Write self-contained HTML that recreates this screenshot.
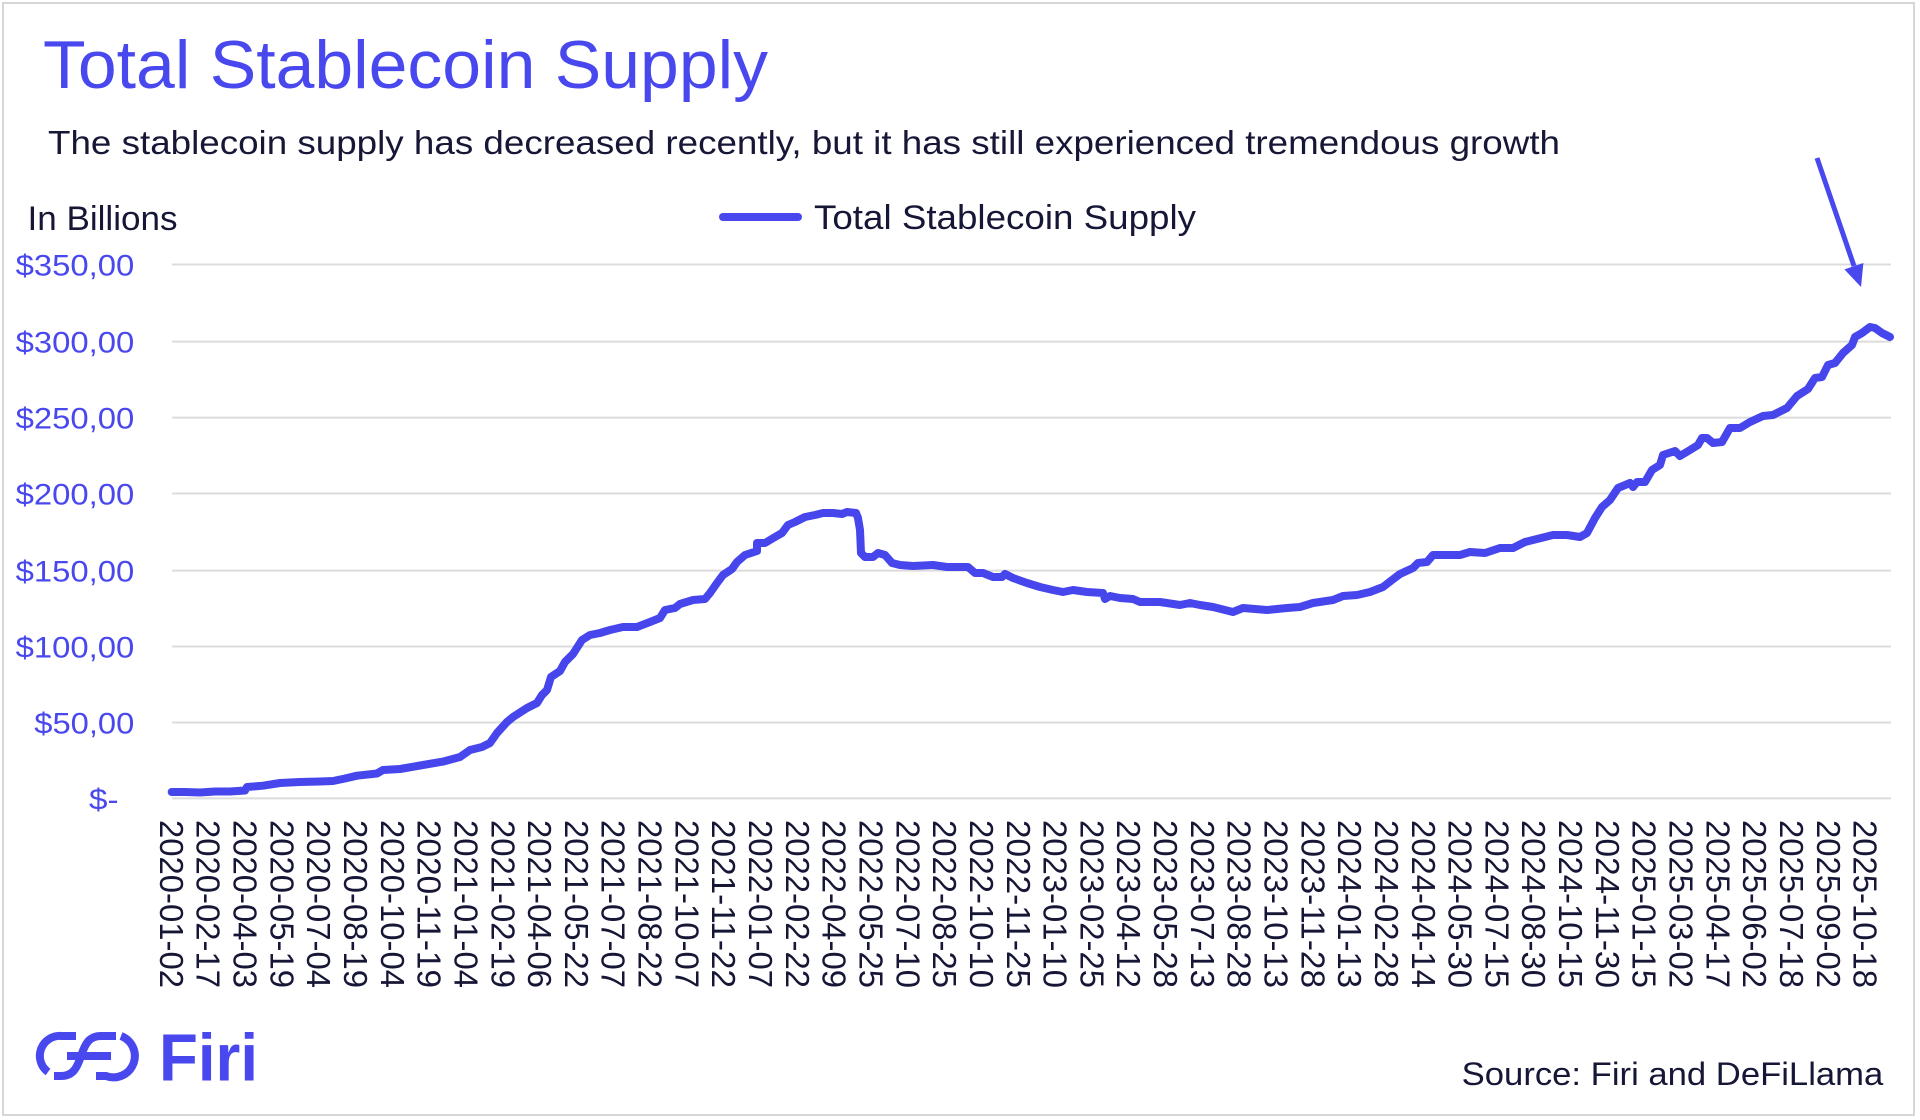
<!DOCTYPE html>
<html>
<head>
<meta charset="utf-8">
<style>
html,body{margin:0;padding:0;background:#fff;}
svg{display:block;}
text{font-family:"Liberation Sans",Arial,sans-serif;}
</style>
</head>
<body>
<svg width="1920" height="1120" viewBox="0 0 1920 1120" xmlns="http://www.w3.org/2000/svg">
<rect x="0" y="0" width="1920" height="1120" fill="#fff"/>
<rect x="3" y="3" width="1911" height="1112" fill="none" stroke="#d6d6d6" stroke-width="2"/>

<!-- Title & subtitle -->
<text x="43" y="88" font-size="68" fill="#4848EE" textLength="725" lengthAdjust="spacingAndGlyphs">Total Stablecoin Supply</text>
<text x="48" y="154" font-size="33.5" fill="#161636" textLength="1512" lengthAdjust="spacingAndGlyphs">The stablecoin supply has decreased recently, but it has still experienced tremendous growth</text>

<text x="27.5" y="230" font-size="34" fill="#161636" textLength="150" lengthAdjust="spacingAndGlyphs">In Billions</text>

<!-- Legend -->
<line x1="723" y1="217" x2="798" y2="217" stroke="#4848EE" stroke-width="8" stroke-linecap="round"/>
<text x="814" y="229" font-size="34" fill="#161636" textLength="382" lengthAdjust="spacingAndGlyphs">Total Stablecoin Supply</text>

<!-- Grid -->
<g stroke="#dcdcdc" stroke-width="2">
<line x1="172" y1="264.5" x2="1891" y2="264.5"/>
<line x1="172" y1="341.6" x2="1891" y2="341.6"/>
<line x1="172" y1="417.6" x2="1891" y2="417.6"/>
<line x1="172" y1="493.5" x2="1891" y2="493.5"/>
<line x1="172" y1="570.6" x2="1891" y2="570.6"/>
<line x1="172" y1="646.5" x2="1891" y2="646.5"/>
<line x1="172" y1="722.5" x2="1891" y2="722.5"/>
<line x1="172" y1="798.4" x2="1891" y2="798.4"/>
</g>

<!-- Y labels -->
<g font-size="30" fill="#4848EE">
<text x="15.7" y="275.5" textLength="118.6" lengthAdjust="spacingAndGlyphs">$350,00</text>
<text x="15.7" y="352.6" textLength="118.6" lengthAdjust="spacingAndGlyphs">$300,00</text>
<text x="15.7" y="428.6" textLength="118.6" lengthAdjust="spacingAndGlyphs">$250,00</text>
<text x="15.7" y="504.5" textLength="118.6" lengthAdjust="spacingAndGlyphs">$200,00</text>
<text x="15.7" y="581.6" textLength="118.6" lengthAdjust="spacingAndGlyphs">$150,00</text>
<text x="15.7" y="657.5" textLength="118.6" lengthAdjust="spacingAndGlyphs">$100,00</text>
<text x="34.3" y="733.5" textLength="100" lengthAdjust="spacingAndGlyphs">$50,00</text>
<text x="89" y="809.4" textLength="29.5" lengthAdjust="spacingAndGlyphs">$-</text>
</g>

<!-- X labels -->
<g font-size="33" fill="#161636">
<text transform="translate(159.9,820) rotate(90)" textLength="168" lengthAdjust="spacingAndGlyphs">2020-01-02</text>
<text transform="translate(196.7,820) rotate(90)" textLength="168" lengthAdjust="spacingAndGlyphs">2020-02-17</text>
<text transform="translate(233.5,820) rotate(90)" textLength="168" lengthAdjust="spacingAndGlyphs">2020-04-03</text>
<text transform="translate(270.4,820) rotate(90)" textLength="168" lengthAdjust="spacingAndGlyphs">2020-05-19</text>
<text transform="translate(307.2,820) rotate(90)" textLength="168" lengthAdjust="spacingAndGlyphs">2020-07-04</text>
<text transform="translate(344.0,820) rotate(90)" textLength="168" lengthAdjust="spacingAndGlyphs">2020-08-19</text>
<text transform="translate(380.8,820) rotate(90)" textLength="168" lengthAdjust="spacingAndGlyphs">2020-10-04</text>
<text transform="translate(417.6,820) rotate(90)" textLength="168" lengthAdjust="spacingAndGlyphs">2020-11-19</text>
<text transform="translate(454.5,820) rotate(90)" textLength="168" lengthAdjust="spacingAndGlyphs">2021-01-04</text>
<text transform="translate(491.3,820) rotate(90)" textLength="168" lengthAdjust="spacingAndGlyphs">2021-02-19</text>
<text transform="translate(528.1,820) rotate(90)" textLength="168" lengthAdjust="spacingAndGlyphs">2021-04-06</text>
<text transform="translate(564.9,820) rotate(90)" textLength="168" lengthAdjust="spacingAndGlyphs">2021-05-22</text>
<text transform="translate(601.7,820) rotate(90)" textLength="168" lengthAdjust="spacingAndGlyphs">2021-07-07</text>
<text transform="translate(638.6,820) rotate(90)" textLength="168" lengthAdjust="spacingAndGlyphs">2021-08-22</text>
<text transform="translate(675.4,820) rotate(90)" textLength="168" lengthAdjust="spacingAndGlyphs">2021-10-07</text>
<text transform="translate(712.2,820) rotate(90)" textLength="168" lengthAdjust="spacingAndGlyphs">2021-11-22</text>
<text transform="translate(749.0,820) rotate(90)" textLength="168" lengthAdjust="spacingAndGlyphs">2022-01-07</text>
<text transform="translate(785.8,820) rotate(90)" textLength="168" lengthAdjust="spacingAndGlyphs">2022-02-22</text>
<text transform="translate(822.7,820) rotate(90)" textLength="168" lengthAdjust="spacingAndGlyphs">2022-04-09</text>
<text transform="translate(859.5,820) rotate(90)" textLength="168" lengthAdjust="spacingAndGlyphs">2022-05-25</text>
<text transform="translate(896.3,820) rotate(90)" textLength="168" lengthAdjust="spacingAndGlyphs">2022-07-10</text>
<text transform="translate(933.1,820) rotate(90)" textLength="168" lengthAdjust="spacingAndGlyphs">2022-08-25</text>
<text transform="translate(969.9,820) rotate(90)" textLength="168" lengthAdjust="spacingAndGlyphs">2022-10-10</text>
<text transform="translate(1006.8,820) rotate(90)" textLength="168" lengthAdjust="spacingAndGlyphs">2022-11-25</text>
<text transform="translate(1043.6,820) rotate(90)" textLength="168" lengthAdjust="spacingAndGlyphs">2023-01-10</text>
<text transform="translate(1080.4,820) rotate(90)" textLength="168" lengthAdjust="spacingAndGlyphs">2023-02-25</text>
<text transform="translate(1117.2,820) rotate(90)" textLength="168" lengthAdjust="spacingAndGlyphs">2023-04-12</text>
<text transform="translate(1154.0,820) rotate(90)" textLength="168" lengthAdjust="spacingAndGlyphs">2023-05-28</text>
<text transform="translate(1190.9,820) rotate(90)" textLength="168" lengthAdjust="spacingAndGlyphs">2023-07-13</text>
<text transform="translate(1227.7,820) rotate(90)" textLength="168" lengthAdjust="spacingAndGlyphs">2023-08-28</text>
<text transform="translate(1264.5,820) rotate(90)" textLength="168" lengthAdjust="spacingAndGlyphs">2023-10-13</text>
<text transform="translate(1301.3,820) rotate(90)" textLength="168" lengthAdjust="spacingAndGlyphs">2023-11-28</text>
<text transform="translate(1338.1,820) rotate(90)" textLength="168" lengthAdjust="spacingAndGlyphs">2024-01-13</text>
<text transform="translate(1375.0,820) rotate(90)" textLength="168" lengthAdjust="spacingAndGlyphs">2024-02-28</text>
<text transform="translate(1411.8,820) rotate(90)" textLength="168" lengthAdjust="spacingAndGlyphs">2024-04-14</text>
<text transform="translate(1448.6,820) rotate(90)" textLength="168" lengthAdjust="spacingAndGlyphs">2024-05-30</text>
<text transform="translate(1485.4,820) rotate(90)" textLength="168" lengthAdjust="spacingAndGlyphs">2024-07-15</text>
<text transform="translate(1522.2,820) rotate(90)" textLength="168" lengthAdjust="spacingAndGlyphs">2024-08-30</text>
<text transform="translate(1559.1,820) rotate(90)" textLength="168" lengthAdjust="spacingAndGlyphs">2024-10-15</text>
<text transform="translate(1595.9,820) rotate(90)" textLength="168" lengthAdjust="spacingAndGlyphs">2024-11-30</text>
<text transform="translate(1632.7,820) rotate(90)" textLength="168" lengthAdjust="spacingAndGlyphs">2025-01-15</text>
<text transform="translate(1669.5,820) rotate(90)" textLength="168" lengthAdjust="spacingAndGlyphs">2025-03-02</text>
<text transform="translate(1706.3,820) rotate(90)" textLength="168" lengthAdjust="spacingAndGlyphs">2025-04-17</text>
<text transform="translate(1743.2,820) rotate(90)" textLength="168" lengthAdjust="spacingAndGlyphs">2025-06-02</text>
<text transform="translate(1780.0,820) rotate(90)" textLength="168" lengthAdjust="spacingAndGlyphs">2025-07-18</text>
<text transform="translate(1816.8,820) rotate(90)" textLength="168" lengthAdjust="spacingAndGlyphs">2025-09-02</text>
<text transform="translate(1853.6,820) rotate(90)" textLength="168" lengthAdjust="spacingAndGlyphs">2025-10-18</text>
</g>

<!-- Data line -->
<polyline fill="none" stroke="#4646EC" stroke-width="8" stroke-linejoin="round" stroke-linecap="round" points="
171.7,792 185,792 200,792.5 215,791.5 230,791.5 245,790.5 247,787 263,785.7 280,783 300,782 320,781.5 333,781
345,778.5 357,775.7 377,773.5 383,770 400,769 423,765 443,761.6 460,757 470,750 482,747 490,743 497,733
507,722 513,717 527,708 537,703 542,695 547,690 551,677 560,671 565,662 573,654 582,640 590,635 600,633
610,630 623,627 637,627 650,622 660,618 665,610 675,608 680,604 693,600 705,599 710,593 717,583 723,575
732,569 737,562 745,555 757,551 757,543 765,543 775,537 782,533 788,525 795,522 805,517 815,515 823,513
833,513 842,514 847,512 856,513 858,518 860,530 861,553 865,557 873,557 878,553 885,555 892,563 900,565
913,566 933,565 947,567 968,567 975,573 983,573 993,577 1002,577 1005,574 1013,578 1027,583 1040,587
1053,590 1063,592 1073,590 1087,592 1103,593 1105,599 1110,596 1120,598 1133,599 1140,602 1160,602
1180,605 1190,603 1200,605 1213,607 1233,612 1243,608 1267,610 1287,608 1300,607 1313,603 1333,600
1343,596 1357,595 1370,592 1383,587 1392,580 1400,574 1413,568 1418,563 1427,562 1433,555 1447,555
1460,555 1470,552 1485,553 1500,548 1513,548 1525,542 1537,539 1553,535 1567,535 1580,537 1587,533
1595,518 1602,507 1610,500 1618,488 1630,483 1633,487 1637,482 1645,482 1652,470 1660,465 1663,455
1675,451 1680,456 1690,450 1698,445 1702,438 1707,438 1713,443 1722,442 1730,428 1740,428 1750,422
1763,416 1773,415 1787,408 1797,396 1808,389 1815,378 1822,377 1828,365 1835,363 1843,353 1852,345
1855,337 1862,333 1870,327 1875,328 1882,333 1890,337"/>

<!-- Arrow -->
<line x1="1817" y1="158" x2="1854" y2="266" stroke="#4848EE" stroke-width="5"/>
<polygon points="1861,287 1844.4,269.4 1863.4,263" fill="#4848EE"/>

<!-- Logo -->
<g fill="none" stroke="#4848EE" stroke-width="8">
<path d="M76 1036 L62 1036 A20 20 0 0 0 48 1072"/>
<path d="M116 1036 L101 1036 C89 1036 85 1044 81 1056 C77 1068 73 1076 61 1076 L54 1076"/>
<path d="M67 1056 L111 1056"/>
<path d="M121 1036 A20.5 20.5 0 0 1 106 1076 L96 1076"/>
</g>
<text x="159" y="1080.5" font-size="67" font-weight="bold" fill="#4848EE" textLength="99" lengthAdjust="spacingAndGlyphs">Firi</text>

<!-- Source -->
<text x="1461.7" y="1085" font-size="32.6" fill="#161636" textLength="421.6" lengthAdjust="spacingAndGlyphs">Source: Firi and DeFiLlama</text>
</svg>
</body>
</html>
